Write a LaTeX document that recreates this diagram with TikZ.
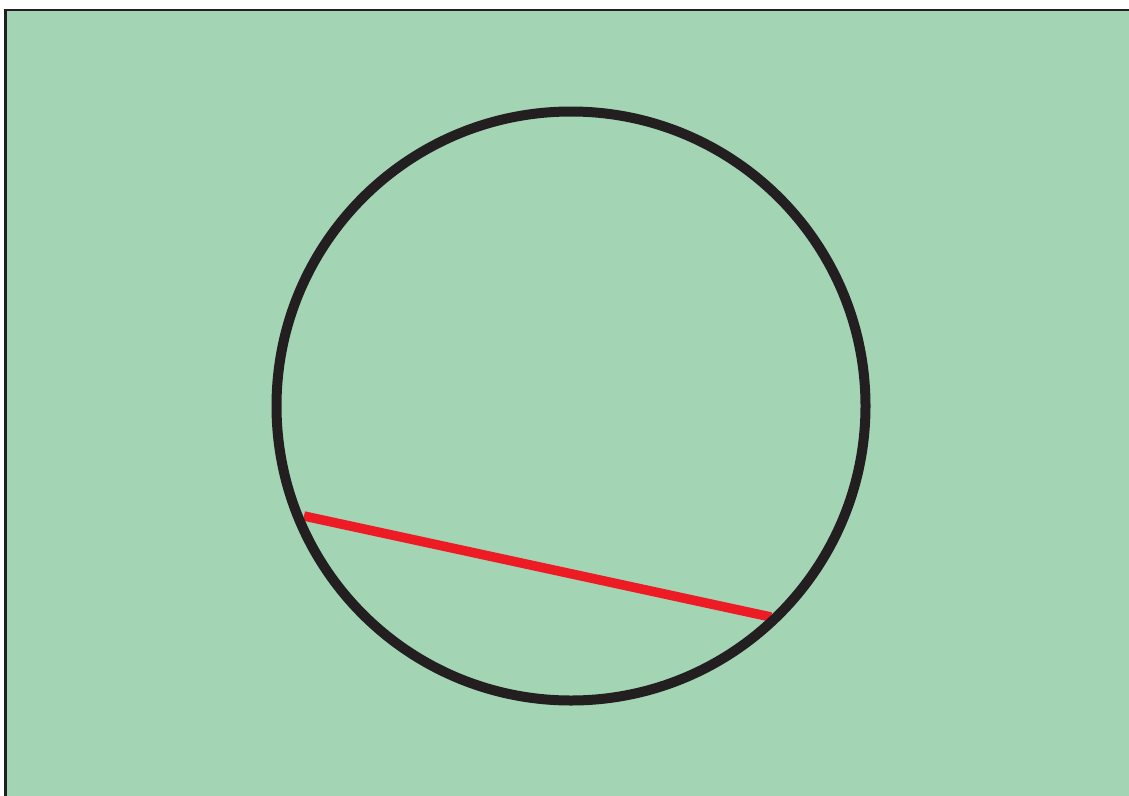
\documentclass[tikz,border=0pt]{standalone}
\definecolor{bggreen}{HTML}{A3D5B5}
\definecolor{ringdark}{HTML}{231F20}
\definecolor{chordred}{HTML}{ED1C24}
\tikzset{
  panel/.style={fill=bggreen, draw=ringdark, line width=2.5pt},
  ring/.style={draw=ringdark, line width=10pt},
  chord/.style={draw=chordred, line width=9.5pt}
}
\begin{document}
\begin{tikzpicture}[x=1pt,y=-1pt]
\useasboundingbox (0,0) rectangle (1129,795);
\clip (0,0) rectangle (1129,795);
\fill[white] (0,0) rectangle (1129,795);
\draw[panel] (5.5,10) rectangle (1140,810);
\coordinate (A) at (304,516);
\coordinate (B) at (771,617);
\draw[chord] (A) -- (B);
\draw[ring] (571,406) circle (294.5);
\end{tikzpicture}
\end{document}
